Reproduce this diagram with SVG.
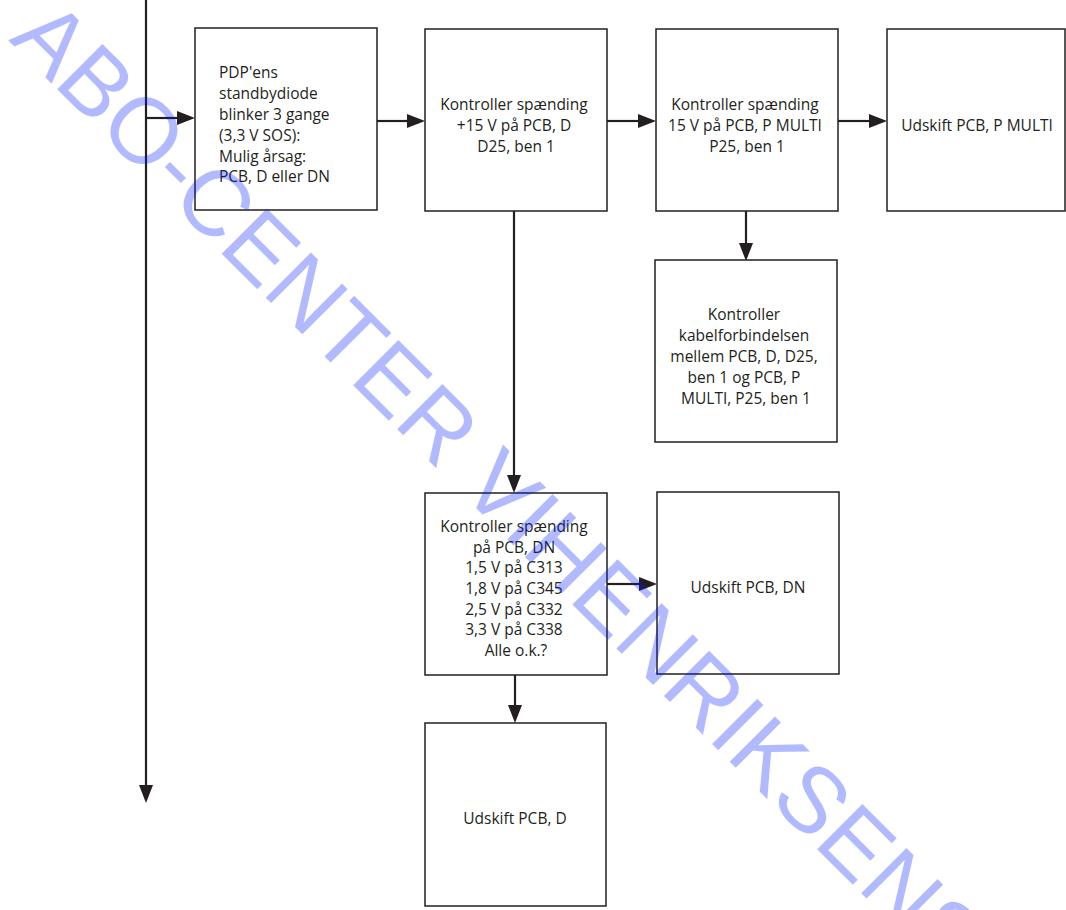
<svg xmlns="http://www.w3.org/2000/svg" width="1066" height="910" viewBox="0 0 1066 910">
  <style>
    .box { fill: #ffffff; stroke: #231f20; stroke-width: 1.5; }
    .lbl { font-family: "Open Sans", "Liberation Sans", sans-serif; font-size: 15.5px; fill: #231f20; }
    .mid { text-anchor: middle; }
    .wire { stroke: #231f20; stroke-width: 2.2; fill: none; marker-end: url(#head); }
    .stamp { font-family: "Liberation Sans", Arial, sans-serif; font-size: 93px; fill: #0019ff; fill-opacity: 0.3; }
  </style>
  <defs>
    <marker id="head" viewBox="0 0 18 14" refX="0" refY="7" markerWidth="18" markerHeight="14" markerUnits="userSpaceOnUse" orient="auto">
      <path d="M0,0 L18,7 L0,14 Z" fill="#231f20"/>
    </marker>
  </defs>

  <!-- connectors -->
  <g id="connectors">
    <line class="wire" x1="146" y1="0" x2="146" y2="785"/>
    <line class="wire" x1="146" y1="118" x2="177" y2="118"/>
    <line class="wire" x1="377" y1="121" x2="407" y2="121"/>
    <line class="wire" x1="607" y1="121" x2="638" y2="121"/>
    <line class="wire" x1="838" y1="121" x2="869" y2="121"/>
    <line class="wire" x1="746" y1="211" x2="746" y2="243"/>
    <line class="wire" x1="514" y1="211" x2="514" y2="475"/>
    <line class="wire" x1="607" y1="584" x2="639" y2="584"/>
    <line class="wire" x1="515" y1="675" x2="515" y2="705"/>
  </g>

  <!-- nodes -->
  <g id="n-symptom">
    <rect class="box" x="195" y="28" width="182" height="182"/>
    <text class="lbl" x="219">
      <tspan x="219" y="78">PDP'ens</tspan>
      <tspan x="219" y="99">standbydiode</tspan>
      <tspan x="219" y="120">blinker 3 gange</tspan>
      <tspan x="219" y="141">(3,3 V SOS):</tspan>
      <tspan x="219" y="162">Mulig årsag:</tspan>
      <tspan x="219" y="182">PCB, D eller DN</tspan>
    </text>
  </g>

  <g id="n-check-d25">
    <rect class="box" x="425" y="29" width="182" height="182"/>
    <text class="lbl mid">
      <tspan x="516" y="110">Kontroller spænding</tspan>
      <tspan x="516" y="131">+15 V på PCB, D</tspan>
      <tspan x="516" y="152">D25, ben 1</tspan>
    </text>
  </g>

  <g id="n-check-p25">
    <rect class="box" x="656" y="29" width="182" height="182"/>
    <text class="lbl mid">
      <tspan x="747" y="110">Kontroller spænding</tspan>
      <tspan x="747" y="131">15 V på PCB, P MULTI</tspan>
      <tspan x="747" y="152">P25, ben 1</tspan>
    </text>
  </g>

  <g id="n-replace-pmulti">
    <rect class="box" x="887" y="29" width="178" height="182"/>
    <text class="lbl mid" x="977" y="131">Udskift PCB, P MULTI</text>
  </g>

  <g id="n-check-cable">
    <rect class="box" x="655" y="260" width="182" height="182"/>
    <text class="lbl mid">
      <tspan x="746" y="320">Kontroller</tspan>
      <tspan x="746" y="341">kabelforbindelsen</tspan>
      <tspan x="746" y="362">mellem PCB, D, D25,</tspan>
      <tspan x="746" y="383">ben 1 og PCB, P</tspan>
      <tspan x="746" y="404">MULTI, P25, ben 1</tspan>
    </text>
  </g>

  <g id="n-check-dn">
    <rect class="box" x="425" y="493" width="182" height="182"/>
    <text class="lbl mid">
      <tspan x="516" y="532">Kontroller spænding</tspan>
      <tspan x="516" y="553">på PCB, DN</tspan>
      <tspan x="516" y="573">1,5 V på C313</tspan>
      <tspan x="516" y="594">1,8 V på C345</tspan>
      <tspan x="516" y="615">2,5 V på C332</tspan>
      <tspan x="516" y="635">3,3 V på C338</tspan>
      <tspan x="516" y="656">Alle o.k.?</tspan>
    </text>
  </g>

  <g id="n-replace-dn">
    <rect class="box" x="657" y="492" width="182" height="182"/>
    <text class="lbl mid" x="748" y="593">Udskift PCB, DN</text>
  </g>

  <g id="n-replace-d">
    <rect class="box" x="425" y="723" width="181" height="183"/>
    <text class="lbl mid" x="515" y="824">Udskift PCB, D</text>
  </g>

  <!-- diagonal stamp over the sheet -->
  <text class="stamp" transform="translate(8,40) rotate(45)">ABO-CENTER VIHENRIKSENS</text>
</svg>
